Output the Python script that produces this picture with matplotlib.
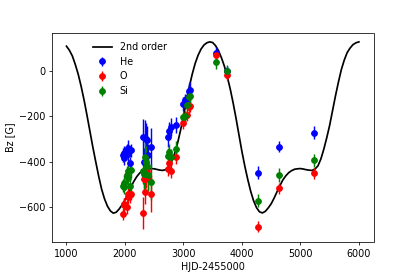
import matplotlib
matplotlib.use('Agg')
import matplotlib.pyplot as plt

# 2nd order fit curve, every 50 days
t_fit = list(range(1000, 6001, 50))
b_fit = [108, 90, 65, 28, -15, -68, -128, -195, -265, -335,
         -400, -463, -520, -563, -595, -616, -626, -622, -608, -590,
         -568, -541, -512, -487, -466, -450, -440, -434, -431, -430,
         -431, -434, -437, -438, -434, -421, -398, -363, -318, -262,
         -200, -135, -70, -15, 32, 68, 95, 113, 123, 127,
         124, 110, 88, 57, 20, -27, -80, -142, -210, -283,
         -355, -420, -478, -530, -572, -602, -620, -625, -618, -603,
         -585, -560, -532, -505, -480, -462, -448, -439, -433, -431,
         -430, -432, -435, -437, -438, -432, -418, -388, -345, -295,
         -240, -175, -110, -50, 5, 47, 80, 100, 115, 123, 127]

# observation epochs (same for all elements)
t_obs = [1960, 1975, 1990, 2030, 2045, 2060, 2090, 2100,
         2300, 2320, 2340, 2360, 2380, 2400, 2440,
         2730, 2750, 2780, 2880,
         2990, 3020, 3060, 3100, 3120,
         3560, 3740, 4270, 4630, 5230]

he = [-370, -385, -360, -350, -340, -365, -405, -350,
      -290, -400, -295, -300, -305, -370, -335,
      -293, -265, -248, -240,
      -145, -130, -120, -90, -85,
      80, -3, -448, -334, -272]
he_err = [30, 30, 30, 30, 35, 30, 25, 30,
          80, 60, 80, 70, 60, 50, 85,
          40, 40, 40, 35,
          30, 30, 30, 35, 35,
          25, 25, 30, 25, 30]

o = [-630, -585, -590, -600, -555, -540, -545, -540,
     -625, -475, -535, -470, -440, -475, -540,
     -432, -405, -440, -378,
     -230, -200, -195, -160, -155,
     68, -19, -685, -517, -451]
o_err = [25, 25, 30, 30, 30, 30, 35, 30,
         70, 40, 50, 45, 40, 50, 80,
         30, 30, 30, 30,
         25, 25, 25, 25, 25,
         25, 20, 25, 25, 25]

si = [-505, -510, -495, -460, -470, -440, -505, -435,
      -440, -455, -380, -400, -420, -460, -490,
      -375, -357, -378, -344,
      -205, -200, -150, -115, -110,
      37, 0, -571, -458, -394]
si_err = [30, 30, 35, 40, 40, 35, 30, 35,
          60, 70, 80, 70, 60, 70, 80,
          35, 35, 35, 35,
          25, 25, 25, 30, 30,
          30, 25, 30, 30, 30]

fig = plt.figure(figsize=(6, 4.005))
ax = fig.add_subplot(111)
fig.subplots_adjust(bottom=0.127)

ax.plot(t_fit, b_fit, 'k-', lw=1.8, label='2nd order')
ax.errorbar(t_obs, he, yerr=he_err, fmt='o', color='b', label='He')
ax.errorbar(t_obs, o, yerr=o_err, fmt='o', color='r', label='O')
ax.errorbar(t_obs, si, yerr=si_err, fmt='o', color='g', label='Si')

ax.set_xlim(750, 6250)
ax.set_ylim(-752, 165)
ax.set_xlabel('HJD-2455000')
ax.set_ylabel('Bz [G]')
ax.legend(loc='upper left', bbox_to_anchor=(0.1, 1.0), frameon=False)

fig.savefig('out.png', dpi=415 / 6)
